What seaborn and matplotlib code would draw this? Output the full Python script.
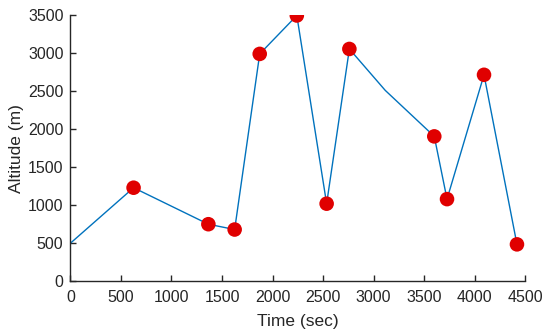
import numpy as np
import pandas as pd
import seaborn as sns
from matplotlib import pyplot as plt

# track points (time in sec, altitude in m)
time_sec = [0, 625, 1365, 1625, 1873, 2240, 2535, 2760, 3115, 3600, 3726, 4092, 4418]
altitude_m = [500, 1230, 750, 680, 2990, 3495, 1020, 3055, 2510, 1905, 1080, 2715, 485]
# which points carry a red marker
marked = [False, True, True, True, True, True, True, True, False, True, True, True, True]

df = pd.DataFrame({'time': time_sec, 'alt': altitude_m, 'marked': marked})

sns.set_theme(style='ticks')
plt.rcParams['font.family'] = ['Liberation Sans', 'DejaVu Sans']

fig, ax = plt.subplots(figsize=(5.5, 3.36), dpi=100)
fig.subplots_adjust(left=0.128, right=0.955, top=0.955, bottom=0.163)

sns.lineplot(data=df, x='time', y='alt', ax=ax, color='#0072BD', linewidth=1.0,
             sort=False, estimator=None)
sns.scatterplot(data=df[df['marked']], x='time', y='alt', ax=ax, color='#E00000',
                s=110, edgecolor='none', zorder=3)

ax.set_xlim(0, 4500)
ax.set_ylim(0, 3500)
ax.set_xticks(np.arange(0, 4501, 500))
ax.set_yticks(np.arange(0, 3501, 500))
ax.set_xlabel('Time (sec)', fontsize=12.5, color='#262626', labelpad=7)
ax.set_ylabel('Altitude (m)', fontsize=12.5, color='#262626', labelpad=3)
ax.tick_params(direction='in', length=4, width=1, labelsize=11.5, colors='#262626')
ax.tick_params(axis='x', pad=6)
ax.tick_params(axis='y', pad=5)
for s in ['left', 'bottom']:
    ax.spines[s].set_color('#262626')
    ax.spines[s].set_linewidth(1)
sns.despine(ax=ax)

plt.savefig('out.png', dpi=100)
plt.close()
